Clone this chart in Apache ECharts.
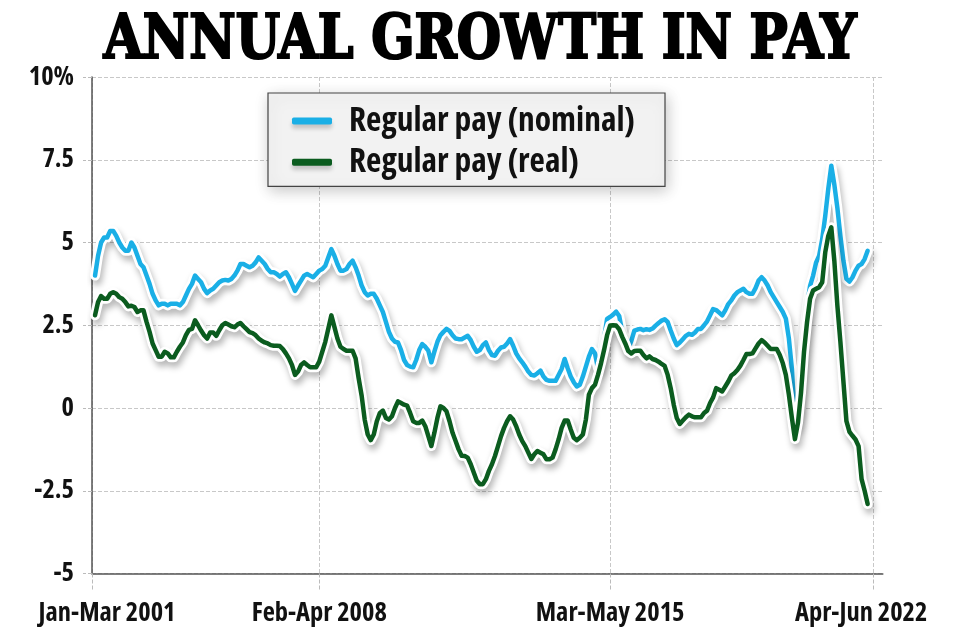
<!DOCTYPE html>
<html>
<head>
<meta charset="utf-8">
<script src="https://cdn.jsdelivr.net/npm/echarts@6/dist/echarts.min.js"></script>
<style>
html,body{margin:0;padding:0;background:#fff}
#c{width:960px;height:640px}
</style>
</head>
<body>
<div id="c"></div>
<script>
// ---------------- DATA ----------------
const chartTitle = 'ANNUAL GROWTH IN PAY';
const seriesNames = ['Regular pay (nominal)', 'Regular pay (real)'];

// x-axis: monthly slots; labelled slots as printed on the reference
const xTickLabels = ['Jan-Mar 2001', 'Feb-Apr 2008', 'Mar-May 2015', 'Apr-Jun 2022'];
const xTickSlots = [0, 75, 171, 258];
const slotCount = 262;
const dataStartSlot = 1;

// y-axis ticks
const yTickValues = [-5, -2.5, 0, 2.5, 5, 7.5, 10];
const yTickLabels = ['-5', '-2.5', '0', '2.5', '5', '7.5', '10%'];

// Regular pay growth, nominal (%)
const nominal = [
  4.0, 4.6, 5.0, 5.15, 5.15, 5.35, 5.35, 5.2, 5.0, 4.85,
  4.75, 4.75, 5.0, 4.85, 4.6, 4.35, 4.25, 4.0, 3.75, 3.45,
  3.25, 3.1, 3.15, 3.15, 3.1, 3.15, 3.15, 3.15, 3.1, 3.2,
  3.4, 3.6, 3.75, 4.0, 3.9, 3.8, 3.6, 3.47, 3.55, 3.6,
  3.7, 3.8, 3.85, 3.87, 3.85, 3.9, 4.0, 4.15, 4.35, 4.35,
  4.3, 4.25, 4.3, 4.4, 4.55, 4.45, 4.35, 4.2, 4.1, 4.1,
  4.05, 3.97, 4.05, 4.1, 3.95, 3.75, 3.54, 3.7, 3.85, 4.0,
  4.05, 4.0, 3.95, 4.05, 4.15, 4.2, 4.3, 4.55, 4.8, 4.6,
  4.35, 4.15, 4.15, 4.2, 4.35, 4.45, 4.25, 4.0, 3.7, 3.5,
  3.4, 3.45, 3.45, 3.3, 3.1, 2.9, 2.6, 2.3, 2.1, 2.0,
  1.98, 1.75, 1.45, 1.3, 1.25, 1.23, 1.45, 1.75, 1.93, 1.85,
  1.73, 1.38, 1.7, 2.0, 2.2, 2.3, 2.39, 2.33, 2.2, 2.1,
  2.08, 2.08, 2.13, 2.18, 2.05, 1.85, 1.7, 1.75, 1.9, 1.98,
  1.75, 1.6, 1.58, 1.73, 1.83, 1.85, 1.95, 2.08, 1.88, 1.65,
  1.5, 1.38, 1.25, 1.1, 1.0, 0.98, 1.05, 1.13, 0.95, 0.85,
  0.82, 0.82, 0.82, 1.0, 1.18, 1.48, 1.2, 0.95, 0.78, 0.65,
  0.7, 0.95, 1.25, 1.55, 1.78, 1.65, 1.2, 1.5, 2.1, 2.69,
  2.75, 2.82, 2.91, 2.78, 2.3, 2.0, 1.8, 2.03, 2.34, 2.37,
  2.39, 2.35, 2.38, 2.36, 2.4, 2.49, 2.57, 2.64, 2.68, 2.6,
  2.34, 2.1, 1.9, 1.98, 2.08, 2.18, 2.24, 2.21, 2.28, 2.39,
  2.39, 2.5, 2.62, 2.8, 2.99, 2.96, 2.88, 2.8, 2.95, 3.14,
  3.25, 3.4, 3.5, 3.55, 3.6, 3.5, 3.45, 3.45, 3.62, 3.85,
  3.95, 3.85, 3.7, 3.5, 3.35, 3.2, 3.05, 2.9, 2.7, 2.1,
  1.18, -0.5, -0.1, 1.0, 2.2, 3.1, 3.69, 4.0, 4.4, 4.6,
  5.1, 5.8, 6.62, 7.32, 6.75, 6.05, 5.2, 4.45, 3.9, 3.82,
  3.95, 4.15, 4.3, 4.35, 4.5, 4.75
];

// Regular pay growth, real (%)
const real = [
  2.8, 3.2, 3.38, 3.3, 3.3, 3.45, 3.5, 3.45, 3.35, 3.3,
  3.2, 3.07, 3.09, 3.05, 2.9, 2.95, 2.95, 2.6, 2.3, 1.95,
  1.75, 1.55, 1.55, 1.7, 1.65, 1.53, 1.53, 1.7, 1.85, 1.98,
  2.2, 2.36, 2.39, 2.65, 2.5, 2.34, 2.2, 2.1, 2.28, 2.28,
  2.18, 2.35, 2.5, 2.57, 2.52, 2.47, 2.44, 2.52, 2.57, 2.47,
  2.38, 2.29, 2.26, 2.2, 2.1, 2.03, 1.98, 1.95, 1.9, 1.88,
  1.88, 1.87, 1.78, 1.65, 1.5, 1.3, 1.0, 1.1, 1.3, 1.38,
  1.3, 1.23, 1.23, 1.23, 1.4, 1.7, 2.0, 2.4, 2.8, 2.45,
  2.1, 1.85, 1.78, 1.73, 1.73, 1.73, 1.5, 0.9, 0.37, -0.35,
  -0.8, -0.97, -0.8, -0.4, -0.15, -0.08, -0.3, -0.35, -0.25, 0.0,
  0.2, 0.15, 0.1, 0.07, -0.15, -0.4, -0.45, -0.45, -0.38, -0.55,
  -0.85, -1.15, -0.75, -0.3, 0.05, 0.0, -0.1, -0.4, -0.75, -1.0,
  -1.25, -1.44, -1.45, -1.5, -1.7, -1.95, -2.2, -2.3, -2.3, -2.15,
  -1.9, -1.7, -1.45, -1.15, -0.85, -0.6, -0.4, -0.25, -0.35, -0.55,
  -0.8, -1.0, -1.15, -1.35, -1.54, -1.4, -1.3, -1.35, -1.4, -1.55,
  -1.55, -1.5, -1.25, -0.95, -0.6, -0.38, -0.38, -0.65, -0.9, -0.97,
  -0.9, -0.8, -0.35, 0.4, 0.6, 0.7, 1.0, 1.35, 1.75, 2.2,
  2.49, 2.5, 2.49, 2.38, 2.15, 1.95, 1.72, 1.65, 1.72, 1.73,
  1.73, 1.6, 1.5, 1.56, 1.48, 1.45, 1.4, 1.33, 1.27, 1.0,
  0.6, 0.1, -0.3, -0.48, -0.38, -0.28, -0.2, -0.25, -0.28, -0.28,
  -0.28, -0.15, -0.08, 0.15, 0.32, 0.6, 0.55, 0.5, 0.65, 0.8,
  0.98, 1.05, 1.15, 1.28, 1.45, 1.63, 1.63, 1.65, 1.8, 1.95,
  2.05, 1.98, 1.88, 1.78, 1.78, 1.78, 1.6, 1.35, 1.0, 0.4,
  -0.3, -0.94, -0.45, 0.45, 1.7, 2.6, 3.3, 3.55, 3.6, 3.65,
  3.8, 4.7, 5.2, 5.46, 4.45, 3.1, 2.0, 0.8, -0.4, -0.72,
  -0.84, -0.95, -1.15, -2.15, -2.5, -2.9
];

// ---------------- STYLE ----------------
const BLUE = '#1aafe6';
const GREEN = '#0b5c1f';
const TITLE_FONT = '"DejaVu Serif Condensed","DejaVu Serif",serif';

const mctx = document.createElement('canvas').getContext('2d');
function textW(font, s) { mctx.font = font; return mctx.measureText(s).width; }
function hasFamily(fam) {
  const p = 'Regular pay 2001 WMAxyz';
  return textW('bold 40px ' + fam + ', monospace', p) !== textW('bold 40px monospace', p) ||
         textW('bold 40px ' + fam + ', serif', p) !== textW('bold 40px serif', p);
}
// choose a bold condensed sans face that is installed
const candidates = [
  {fam: '"Liberation Sans Narrow"', st: 'normal'},
  {fam: '"Noto Sans Condensed"', st: 'normal'},
  {fam: '"Noto Sans"', st: 'condensed'},
  {fam: '"Open Sans"', st: 'condensed'},
  {fam: 'Roboto', st: 'condensed'},
  {fam: '"DejaVu Sans Condensed"', st: 'normal'}
];
let NARROW = '"DejaVu Sans Condensed", sans-serif', NSTYLE = 'normal';
for (const c of candidates) {
  if (!hasFamily(c.fam)) continue;
  if (c.st === 'condensed') {
    const a = textW('normal bold 40px ' + c.fam, 'Regular pay (nominal)');
    const b = textW('condensed bold 40px ' + c.fam, 'Regular pay (nominal)');
    if (!(b < a * 0.92)) continue;
  }
  NARROW = c.fam + ', sans-serif'; NSTYLE = c.st; break;
}
const fontStr = (size) => NSTYLE + ' bold ' + size + 'px ' + NARROW;
const clamp = (v, a, b) => Math.max(a, Math.min(b, v));
const AXIS_SIZE = clamp(25 * 137 / textW(fontStr(25), 'Jan-Mar 2001'), 16, 27);
const LEG_SIZE = clamp(33 * 286 / textW(fontStr(33), seriesNames[0]), 20, 34);
const legTextW = textW(fontStr(LEG_SIZE), seriesNames[0]);
const legRightPad = Math.max(4, 397 - (24 + 40 + 5 + 12 + legTextW));

const slots = Array.from({length: slotCount}, (_, k) => 'm' + k);
const place = arr => Array(dataStartSlot).fill(null).concat(arr);
const tickSet = new Set(xTickSlots);
const isTick = (idx) => tickSet.has(idx);

// fit title width
const TITLE_SIZE = 62;
const titleW = textW('bold ' + TITLE_SIZE + 'px ' + TITLE_FONT, chartTitle);
const titleScaleX = 755 / (titleW + 2);

const chart = echarts.init(document.getElementById('c'), null, {renderer: 'canvas', width: 960, height: 640});

function halo(name, arr, z) {
  return {
    name: name, type: 'line', data: place(arr), symbol: 'none', showSymbol: false,
    silent: true, z: z, legendHoverLink: false,
    lineStyle: {color: '#ffffff', width: 10, cap: 'round', join: 'round',
      shadowColor: 'rgba(0,0,0,0.28)', shadowBlur: 6, shadowOffsetX: 2, shadowOffsetY: 5}
  };
}
function main(name, arr, color, z) {
  return {
    name: name, type: 'line', data: place(arr), symbol: 'none', showSymbol: false, z: z,
    itemStyle: {color: color},
    lineStyle: {color: color, width: 4.5, cap: 'round', join: 'round'}
  };
}
const labFont = {fontFamily: NARROW, fontStyle: NSTYLE, fontWeight: 'bold', fontSize: AXIS_SIZE, color: '#111'};

const option = {
  animation: false,
  backgroundColor: '#ffffff',
  graphic: [{
    type: 'text', x: 480, y: 42, scaleX: titleScaleX, scaleY: 1,
    style: {text: chartTitle, font: 'bold ' + TITLE_SIZE + 'px ' + TITLE_FONT,
      fill: '#000', stroke: '#000', lineWidth: 2.2, align: 'center', verticalAlign: 'middle'}
  }],
  grid: {left: 92, right: 77.2, top: 77, bottom: 66.5, containLabel: false, outerBoundsMode: 'none'},
  legend: {
    data: seriesNames, orient: 'vertical', left: 268, top: 93,
    padding: [8, legRightPad, 4, 24], itemGap: 1.3,
    itemWidth: 40, itemHeight: 7, icon: 'roundRect',
    backgroundColor: '#f2f2f2', borderColor: '#444', borderWidth: 1.2, borderRadius: 0,
    shadowColor: 'rgba(0,0,0,0.22)', shadowBlur: 14, shadowOffsetX: 2, shadowOffsetY: 4,
    itemStyle: {borderWidth: 0, shadowColor: 'rgba(0,0,0,0.2)', shadowBlur: 4, shadowOffsetY: 4},
    textStyle: {fontFamily: NARROW, fontStyle: NSTYLE, fontWeight: 'bold', fontSize: LEG_SIZE, color: '#111',
      lineHeight: 34, padding: [0, 0, 6, 12]},
    selectedMode: false
  },
  xAxis: {
    type: 'category', data: slots, boundaryGap: false,
    axisLine: {show: true, onZero: false, lineStyle: {color: '#555', width: 1.5}},
    axisTick: {show: true, length: 17, interval: isTick,
      lineStyle: {color: '#bbb', type: 'dashed', width: 1}},
    splitLine: {show: true, interval: isTick,
      lineStyle: {color: '#c8c8c8', type: 'dashed', width: 1}},
    axisLabel: Object.assign({
      interval: isTick, margin: 27, lineHeight: AXIS_SIZE,
      formatter: function (v, idx) {
        const k = xTickSlots.indexOf(idx);
        if (k < 0) return '';
        if (k === 0) return '{first|' + xTickLabels[k] + '}';
        if (k === xTickSlots.length - 1) return '{last|' + xTickLabels[k] + '}';
        return '{mid|' + xTickLabels[k] + '}';
      },
      rich: {
        first: Object.assign({padding: [0, 0, 0, 30]}, labFont),
        mid: Object.assign({}, labFont),
        last: Object.assign({padding: [0, 25, 0, 0]}, labFont)
      }
    }, labFont)
  },
  yAxis: {
    type: 'value', min: -5, max: 10, interval: 2.5,
    axisLine: {show: true, lineStyle: {color: '#555', width: 1.5}},
    axisTick: {show: true, length: 9, lineStyle: {color: '#bbb', type: 'dashed'}},
    splitLine: {show: true, lineStyle: {color: '#c8c8c8', type: 'dashed', width: 1}},
    axisLabel: Object.assign({
      margin: 18,
      formatter: function (v) {
        const k = yTickValues.indexOf(v);
        return k >= 0 ? yTickLabels[k] : '';
      }
    }, labFont)
  },
  series: [
    halo('nominal-halo', nominal, 1),
    main(seriesNames[0], nominal, BLUE, 2),
    halo('real-halo', real, 3),
    main(seriesNames[1], real, GREEN, 4)
  ]
};
chart.setOption(option);
</script>
</body>
</html>
